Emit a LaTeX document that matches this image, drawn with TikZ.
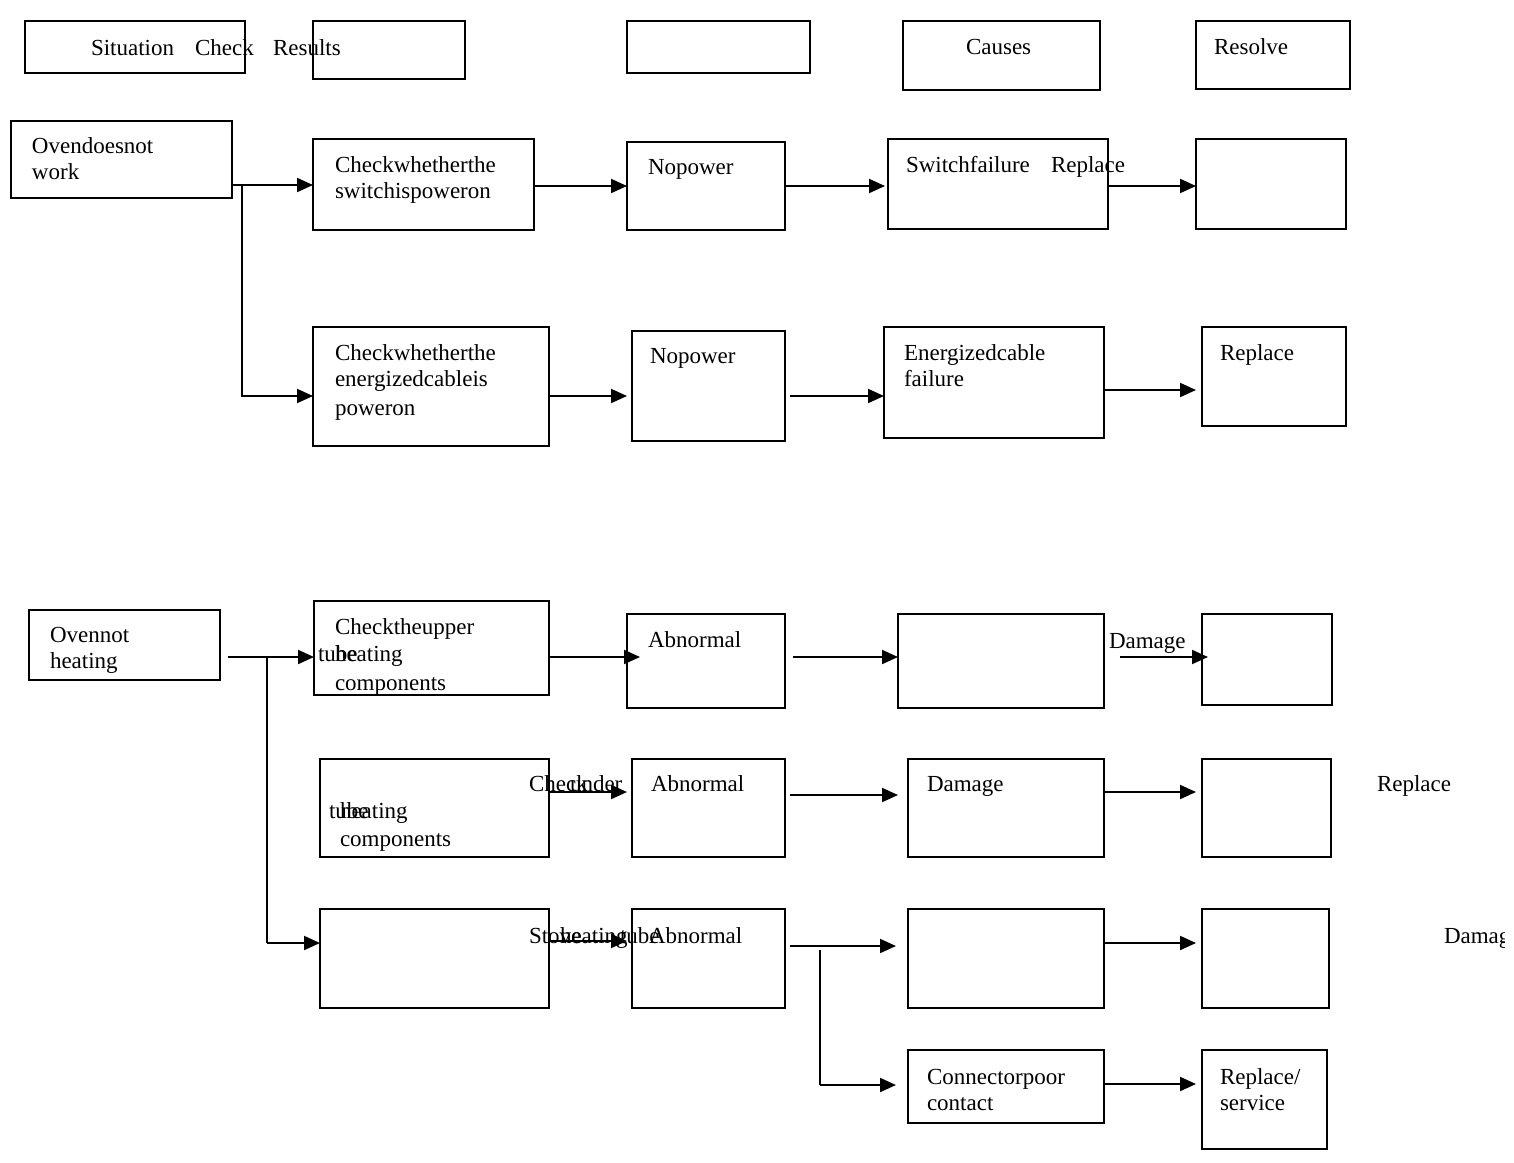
\documentclass[tikz,border=0pt]{standalone}
\usepackage{fontspec}
\setmainfont{Liberation Serif}
\usetikzlibrary{arrows.meta,calc}
\tikzset{
  bx/.style={draw, line width=1pt, anchor=north west, inner sep=0pt, outer sep=0pt},
  tx/.style={anchor=base west, inner sep=0pt, outer sep=0pt, font=\fontsize{11.5}{13}\selectfont},
  arr/.style={line width=1pt, -{Triangle[length=8pt,width=7pt]}},
  thinl/.style={line width=0.75pt}
}
\newcommand\bxnode[5]{\node[bx, minimum width={(#4-#2)*0.5pt}, minimum height={(#5-#3)*0.5pt}] (#1) at (#2,#3) {};}
\newcommand\tline[4]{\node[tx] (#1) at (#2,#3) {#4};}
\begin{document}
\begin{tikzpicture}[x=0.5pt,y=-0.5pt]
\useasboundingbox (0,0) rectangle (1514,1162);
\clip (0,0) rectangle (1504,1162);
% header boxes
\bxnode{h1}{25}{21}{245}{73}
\bxnode{h2}{313}{21}{465}{79}
\bxnode{h3}{627}{21}{810}{73}
\bxnode{h4}{903}{21}{1100}{90}
\bxnode{h5}{1196}{21}{1350}{89}
% section 1
\bxnode{A}{11}{121}{232}{198}
\bxnode{B1}{313}{139}{534}{230}
\bxnode{C1}{627}{142}{785}{230}
\bxnode{D1}{888}{139}{1108}{229}
\bxnode{E1}{1196}{139}{1346}{229}
\bxnode{B2}{313}{327}{549}{446}
\bxnode{C2}{632}{331}{785}{441}
\bxnode{D2}{884}{327}{1104}{438}
\bxnode{E2}{1202}{327}{1346}{426}
% section 2
\bxnode{F}{29}{610}{220}{680}
\bxnode{G1}{314}{601}{549}{695}
\bxnode{K1}{627}{614}{785}{708}
\bxnode{I1}{898}{614}{1104}{708}
\bxnode{J1}{1202}{614}{1332}{705}
\bxnode{G2}{320}{759}{549}{857}
\bxnode{K2}{632}{759}{785}{857}
\bxnode{I2}{908}{759}{1104}{857}
\bxnode{J2}{1202}{759}{1331}{857}
\bxnode{G3}{320}{909}{549}{1008}
\bxnode{K3}{632}{909}{785}{1008}
\bxnode{I3}{908}{909}{1104}{1008}
\bxnode{J3}{1202}{909}{1329}{1008}
\bxnode{I4}{908}{1050}{1104}{1123}
\bxnode{J4}{1202}{1050}{1327}{1149}
% row coordinates
\coordinate (y185) at (0,185);
\coordinate (y186) at (0,186);
\coordinate (y390) at (0,390);
\coordinate (y396) at (0,396);
\coordinate (y657) at (0,657);
\coordinate (y792) at (0,792);
\coordinate (y795) at (0,795);
\coordinate (y941) at (0,941);
\coordinate (y943) at (0,943);
\coordinate (y946) at (0,946);
\coordinate (y1084) at (0,1084);
\coordinate (y1085) at (0,1085);
\coordinate (j1) at (242,185);
\coordinate (j2) at (242,396);
\coordinate (j3) at (267,657);
\coordinate (j4) at (267,943);
\coordinate (j5) at (820,950);
\coordinate (j6) at (820,1085);
% connectors section 1
\draw[arr] (A.east |- y185) -- (B1.west |- y185);
\draw[thinl] (j1) -- (j2);
\draw[arr] ($(j2)+(-1,0)$) -- (B2.west |- y396);
\draw[arr] (B1.east |- y186) -- (C1.west |- y186);
\draw[arr] (C1.east |- y186) -- ($(D1.west |- y186)+(-3,0)$);
\draw[arr] (D1.east |- y186) -- (E1.west |- y186);
\draw[arr] (B2.east |- y396) -- ($(C2.west |- y396)+(-5,0)$);
\draw[arr] ($(C2.east |- y396)+(5,0)$) -- (D2.west |- y396);
\draw[arr] (D2.east |- y390) -- ($(E2.west |- y390)+(-6,0)$);
% connectors section 2
\draw[arr] ($(F.east |- y657)+(8,0)$) -- (G1.west |- y657);
\draw[thinl] (j3) -- (j4);
\draw[arr] (j4) -- (G3.west |- y943);
\draw[arr] (G1.east |- y657) -- ($(K1.west |- y657)+(13,0)$);
\draw[arr] ($(K1.east |- y657)+(8,0)$) -- (I1.west |- y657);
\draw[arr] ($(I1.east |- y657)+(16,0)$) -- ($(J1.west |- y657)+(6,0)$);
\draw[arr] (G2.east |- y792) -- ($(K2.west |- y792)+(-5,0)$);
\draw[arr] ($(K2.east |- y795)+(5,0)$) -- ($(I2.west |- y795)+(-10,0)$);
\draw[arr] (I2.east |- y792) -- ($(J2.west |- y792)+(-6,0)$);
\draw[arr] (G3.east |- y941) -- ($(K3.west |- y941)+(-5,0)$);
\draw[arr] ($(K3.east |- y946)+(5,0)$) -- ($(I3.west |- y946)+(-12,0)$);
\draw[thinl] (j5) -- (j6);
\draw[arr] (j6) -- ($(I4.west |- y1085)+(-12,0)$);
\draw[arr] (I3.east |- y943) -- ($(J3.west |- y943)+(-6,0)$);
\draw[arr] (I4.east |- y1084) -- ($(J4.west |- y1084)+(-6,0)$);
% texts
\tline{t1}{91}{55}{Situation}
\tline{t2}{195}{55}{Check}
\tline{t3}{273}{55}{Results}
\tline{t4}{966}{54}{Causes}
\tline{t5}{1214}{54}{Resolve}
\tline{t6}{32}{153}{Ovendoesnot}
\tline{t7}{32}{179}{work}
\tline{t8}{335}{172}{Checkwhetherthe}
\tline{t9}{335}{198}{switchispoweron}
\tline{t10}{648}{174}{Nopower}
\tline{t11}{906}{172}{Switchfailure}
\tline{t12}{1051}{172}{Replace}
\tline{t13}{335}{360}{Checkwhetherthe}
\tline{t14}{335}{386}{energizedcableis}
\tline{t15}{335}{415}{poweron}
\tline{t16}{650}{363}{Nopower}
\tline{t17}{904}{360}{Energizedcable}
\tline{t18}{904}{386}{failure}
\tline{t19}{1220}{360}{Replace}
\tline{t20}{50}{642}{Ovennot}
\tline{t21}{50}{668}{heating}
\tline{t22}{335}{634}{Checktheupper}
\tline{t23}{318}{661}{tube}
\tline{t24}{335}{661}{heating}
\tline{t25}{335}{690}{components}
\tline{t26}{648}{647}{Abnormal}
\tline{t27}{1109}{648}{Damage}
\tline{t28}{529}{791}{Check}
\tline{t29}{570}{791}{under}
\tline{t30}{329}{818}{tube}
\tline{t31}{340}{818}{heating}
\tline{t32}{340}{846}{components}
\tline{t33}{651}{791}{Abnormal}
\tline{t34}{927}{791}{Damage}
\tline{t35}{1377}{791}{Replace}
\tline{t36}{529}{943}{Stove}
\tline{t37}{560}{943}{heating}
\tline{t38}{620}{943}{tube}
\tline{t39}{649}{943}{Abnormal}
\tline{t40}{1444}{943}{Damage}
\tline{t41}{927}{1084}{Connectorpoor}
\tline{t42}{927}{1110}{contact}
\tline{t43}{1220}{1084}{Replace/}
\tline{t44}{1220}{1110}{service}
\end{tikzpicture}
\end{document}
